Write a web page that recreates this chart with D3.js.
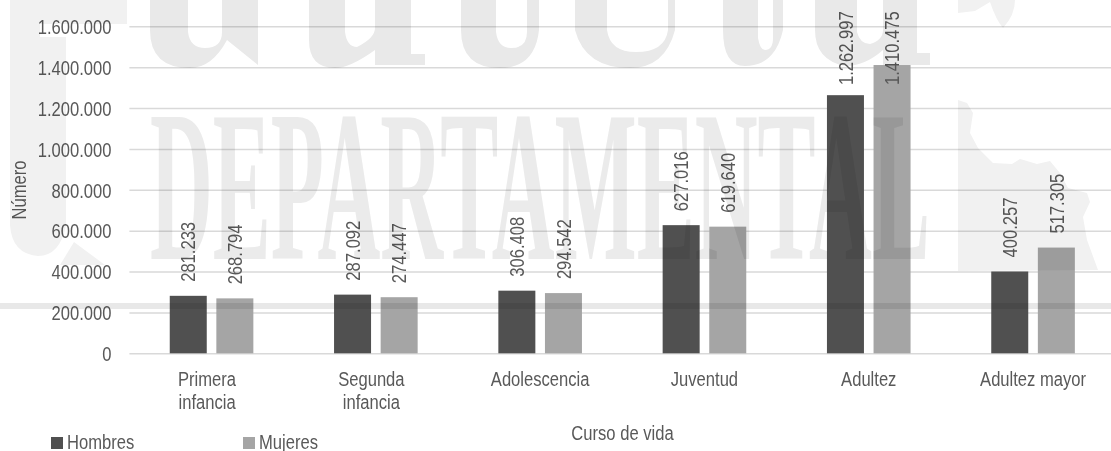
<!DOCTYPE html>
<html>
<head>
<meta charset="utf-8">
<style>
  html, body { margin: 0; padding: 0; background: #fff; overflow: hidden; }
  text { font-family: "Liberation Sans", Arial, sans-serif; fill: #595959; }
</style>
</head>
<body>
<div id="container"></div>
<script src="https://cdn.jsdelivr.net/npm/d3@7"></script>
<script>
var categories = [["Primera", "infancia"], ["Segunda", "infancia"], ["Adolescencia"], ["Juventud"], ["Adultez"], ["Adultez mayor"]];
var seriesNames = ["Hombres", "Mujeres"];
var hombres = [281233, 287092, 306408, 627016, 1262997, 400257];
var mujeres = [268794, 274447, 294542, 619640, 1410475, 517305];
var yTicks = [0, 200000, 400000, 600000, 800000, 1000000, 1200000, 1400000, 1600000];

var width = 1111, height = 451;
var colors = ["#505050", "#a5a5a5"];
var squeeze = "scale(0.79,1)";   // the source text is narrower than the font
var fontSize = 21;

var svg = d3.select("#container").append("svg")
  .attr("width", width)
  .attr("height", height)
  .style("display", "block")
  .style("filter", "blur(0.4px)");   // the source is a soft scan

var x = d3.scaleBand()
  .domain(d3.range(categories.length))
  .range([129.4, 1115.2]);

var y = d3.scaleLinear()
  .domain([0, 1600000])
  .range([353.3, 26.3]);

var dot = d3.formatLocale({decimal: ",", thousands: ".", grouping: [3], currency: ["", ""]}).format(",d");

// gridlines and tick labels
var yAxis = svg.append("g")
  .attr("transform", "translate(" + x.range()[0] + ",0)")
  .call(d3.axisLeft(y).tickValues(yTicks).tickSize(-(x.range()[1] - x.range()[0])).tickFormat(dot));
yAxis.select(".domain").remove();
yAxis.selectAll("line").attr("stroke", "#d9d9d9").attr("stroke-width", 1.5);
yAxis.selectAll("text")
  .attr("x", null).attr("dy", null)
  .attr("text-anchor", "end")
  .attr("dominant-baseline", "central")
  .attr("font-family", null)
  .style("font-size", fontSize + "px")
  .attr("transform", "translate(-18,0) " + squeeze);

// bars
var barWidth = 37, barGap = 9.6;
var series = [hombres, mujeres];
series.forEach(function(values, s) {
  var barX = function(i) {
    return x(i) + x.bandwidth() / 2 + (s === 0 ? -barGap / 2 - barWidth : barGap / 2);
  };

  svg.append("g").selectAll("rect")
    .data(values)
    .enter()
    .append("rect")
      .attr("x", function(d, i) { return barX(i); })
      .attr("y", function(d) { return y(d); })
      .attr("width", barWidth)
      .attr("height", function(d) { return y(0) - y(d); })
      .style("fill", colors[s]);

  // labels of the two tallest bars get pushed down so they stay on the page
  svg.append("g").selectAll("text")
    .data(values)
    .enter()
    .append("text")
      .attr("transform", function(d, i) {
        var ly = Math.max(y(d) - 14, 85);
        return "translate(" + (barX(i) + barWidth / 2) + "," + ly + ") rotate(-90) " + squeeze;
      })
      .attr("dominant-baseline", "central")
      .style("font-size", fontSize + "px")
      .text(function(d) { return dot(d); });
});

// category labels
categories.forEach(function(lines, i) {
  var cx = x(i) + x.bandwidth() / 2 + (lines.length > 1 ? -4.5 : 0);
  lines.forEach(function(line, k) {
    svg.append("text")
      .attr("transform", "translate(" + cx + "," + (386 + k * 23) + ") " + squeeze)
      .attr("text-anchor", "middle")
      .style("font-size", fontSize + "px")
      .text(line);
  });
});

// axis titles
svg.append("text")
  .attr("transform", "translate(26,190) rotate(-90) " + squeeze)
  .attr("text-anchor", "middle")
  .style("font-size", fontSize + "px")
  .text("Número");

svg.append("text")
  .attr("transform", "translate(622.5,440) " + squeeze)
  .attr("text-anchor", "middle")
  .style("font-size", fontSize + "px")
  .text("Curso de vida");

// legend
var legendX = [51, 243];
seriesNames.forEach(function(name, i) {
  svg.append("rect")
    .attr("x", legendX[i]).attr("y", 437)
    .attr("width", 12).attr("height", 12)
    .style("fill", colors[i]);
  svg.append("text")
    .attr("transform", "translate(" + (legendX[i] + 16) + ",449) " + squeeze)
    .style("font-size", fontSize + "px")
    .text(name);
});

// watermark behind the scan, multiplied over everything
var mark = svg.append("g").style("mix-blend-mode", "multiply");

mark.append("rect").attr("x", 0).attr("y", 303).attr("width", width).attr("height", 6).style("fill", "#e8e8e8");

var markText = mark.append("text")
  .attr("y", 259)
  .style("font-family", "'Liberation Serif', serif")
  .style("font-weight", "bold")
  .style("font-size", "217px")
  .style("fill", "#ebebeb")
  .text("DEPARTAMENTAL");
markText.attr("transform", "translate(150,0) scale(" + (780 / markText.node().getComputedTextLength()) + ",1)");

// bottoms of the cut off letters along the top edge
var topLetters = [
  "M150,0 L188,0 L188,32 Q190,48 205,48 Q222,48 222,32 L222,0 L258,0 L258,65 L227,40 Q212,68 190,68 Q150,68 150,30 Z",
  "M309,0 L345,0 L345,32 Q347,47 357,47 Q375,38 375,28 L375,0 L411,0 L411,54 L425,54 L425,65 L375,65 L375,50 Q350,68 335,68 Q309,68 309,40 Z",
  "M461,0 L496,0 L496,32 Q498,48 511,48 Q527,48 527,32 L527,0 L539,0 L539,30 Q535,68 500,68 Q461,68 461,30 Z",
  "M575,0 L607,0 L607,30 Q610,52 636,52 Q665,52 668,30 L668,0 L675,0 L675,30 Q665,68 630,68 Q585,68 575,30 Z",
  "M723,0 L758,0 L758,38 Q760,50 765,50 Q773,50 773,38 L773,0 L783,0 L783,30 Q775,66 745,66 Q723,66 723,30 Z",
  "M815,0 L857,0 L857,32 Q860,44 870,44 Q883,40 883,30 L883,0 L917,0 L917,53 L930,53 L930,65 L883,65 L883,50 Q865,66 845,66 Q815,60 815,30 Z"
];
mark.selectAll(".top-letter")
  .data(topLetters)
  .enter()
  .append("path")
    .attr("class", "top-letter")
    .attr("d", function(d) { return d; })
    .style("fill", "#e9e9e9");

// paler outlines at the page sides
var sideShapes = [
  "M10,0 L127,0 L127,24 L40,24 L40,37 L66,37 L66,225 Q60,256 38,256 Q12,254 10,225 Z",
  "M74,242 L105,265 L60,265 Z",
  "M958,0 L1015,0 Q1015,15 1003,28 Q996,20 990,2 L975,11 L958,13 Z",
  "M958,100 L967,103 L973,113 L970,133 L978,148 L993,163 L1012,164 L1020,159 L1037,164 L1050,161 L1060,173 L1068,188 L1087,193 L1090,202 L1083,217 L1087,240 L1098,270 L958,271 Z"
];
mark.selectAll(".side-shape")
  .data(sideShapes)
  .enter()
  .append("path")
    .attr("class", "side-shape")
    .attr("d", function(d) { return d; })
    .style("fill", "#f1f1f1");
</script>
</body>
</html>
